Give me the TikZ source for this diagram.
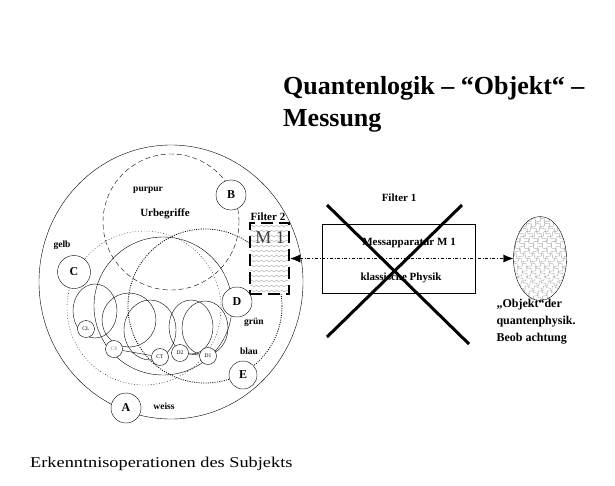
\documentclass[tikz,border=0pt]{standalone}
\usepackage{fontspec}
\setmainfont{Liberation Serif}
\newfontfamily\widefont[FakeStretch=1.22]{Liberation Serif}
\usetikzlibrary{shapes.geometric,decorations.pathmorphing,arrows.meta}
\tikzset{
  letter/.style={circle, draw, minimum size=30pt, inner sep=0pt, font=\fontsize{12}{12}\selectfont\bfseries},
  tiny/.style={circle, draw, fill=white, minimum size=17pt, inner sep=0pt, font=\fontsize{5.5}{5.5}\selectfont},
  lab/.style={font=\fontsize{9.5}{9.5}\selectfont\bfseries},
  labb/.style={font=\fontsize{11}{11}\selectfont\bfseries},
  wave/.style={gray!65, line width=.4pt, solid, decorate, decoration={snake, amplitude=.8pt, segment length=5pt}},
  scales/.style={gray!70, line width=.4pt, solid, decorate, decoration={snake, amplitude=1.4pt, segment length=7pt}},
}
\begin{document}
\begin{tikzpicture}[x=1pt, y=-1pt, >=Latex]
\useasboundingbox (0,0) rectangle (615,485);
% title
\node[anchor=base west, font=\fontsize{26}{26}\selectfont\bfseries, inner sep=0pt] (title1) at (283,94) {Quantenlogik – “Objekt“ –};
\node[anchor=base west, font=\fontsize{26}{26}\selectfont\bfseries, inner sep=0pt] (title2) at (283,126) {Messung};
% circles of the subject
\draw (171,282) ellipse [x radius=132pt, y radius=137pt];
\draw[dash pattern=on 5pt off 3pt] (171,222) circle [radius=68pt];
\draw[dash pattern=on .8pt off 2pt] (144,308) circle [radius=77pt];
\draw[line width=.8pt, dash pattern=on 1pt off 1.3pt] (205,306) circle [radius=77pt];
\draw (163,306) circle [radius=69pt];
\draw (95,311) ellipse [x radius=22pt, y radius=27pt];
\draw (129,320) ellipse [x radius=27pt, y radius=27pt];
\draw (150,330) ellipse [x radius=26pt, y radius=30pt];
\draw (191,327) ellipse [x radius=22pt, y radius=27pt];
\draw (205,328) ellipse [x radius=23pt, y radius=27pt];
\node[letter, fill=white] (B) at (231,195) {B};
\node[letter, fill=white, minimum size=33pt] (C) at (74,272) {C};
\node[letter, fill=white] (D) at (237,302) {D};
\node[letter, fill=white, minimum size=28pt] (E) at (243,375) {E};
\node[letter, fill=white] (A) at (126,408) {A};
\node[tiny] (cl) at (86,329) {CL};
\node[tiny, text=gray] (cs) at (114,349) {CS};
\node[tiny] (ct) at (160,357) {CT};
\node[tiny] (d2) at (180,353) {D2};
\node[tiny] (d1) at (208,356) {D1};
\draw (cs) -- (ct);
\draw (d2) -- (d1);
\node[lab] (purpur) at (148,190) {purpur};
\node[labb] (urb) at (165,214) {Urbegriffe};
\node[lab] (gelb) at (62,245) {gelb};
\node[lab] (gruen) at (254,322) {grün};
\node[lab] (blau) at (249,351) {blau};
\node[lab] (weiss) at (164,406) {weiss};
% filter 2
\node (filter2) [draw, fill=white, line width=2.5pt, dash pattern=on 12pt off 6pt,
  minimum width=39pt, minimum height=71pt, inner sep=0pt,
  path picture={
    \foreach \k in {3,8,...,70}
      \draw[wave] ([yshift=-\k pt]path picture bounding box.north west) -- ([yshift=-\k pt]path picture bounding box.north east);
  }] at (269.5,258.5) {};
\node[font=\fontsize{18}{18}\selectfont, text=black!75] (m1) at (270,238) {M 1};
\node[labb] (f2) at (268,217) {Filter 2};
% filter 1
\node (mess) [draw, minimum width=153pt, minimum height=69pt] at (398.5,258.5) {};
\node[labb] (messtext) at (409,243) {Messapparatur M 1};
\node[labb] (klass) at (401,278) {klassische Physik};
\node[labb] (f1) at (399,198) {Filter 1};
\draw[line width=3pt] (327,205) -- (469,344);
\draw[line width=3pt] (462,205) -- (327,337);
% object
\node (obj) [ellipse, draw, minimum width=53pt, minimum height=84pt, inner sep=0pt,
  path picture={
    \foreach \k in {-66,-57,...,66}{
      \draw[scales] ([xshift={\k pt}]path picture bounding box.center) ++(-50pt,-50pt) -- ++(100pt,100pt);
      \draw[scales] ([xshift={\k pt}]path picture bounding box.center) ++(-50pt,50pt) -- ++(100pt,-100pt);
    }
  }] at (540,258.5) {};
\draw[{Latex[length=10pt,width=8pt]}-{Latex[length=10pt,width=8pt]}, dash dot] (filter2.east) -- (obj.west);
\node[anchor=west, align=left, font=\fontsize{12}{17}\selectfont\bfseries] (objtext) at (493,322) {„Objekt“der\\quantenphysik.\\Beob achtung};
% subject
\node[anchor=base west, font=\widefont\fontsize{15}{15}\selectfont, inner sep=0pt] (subj) at (30,467) {Erkenntnisoperationen des Subjekts};
\end{tikzpicture}
\end{document}
